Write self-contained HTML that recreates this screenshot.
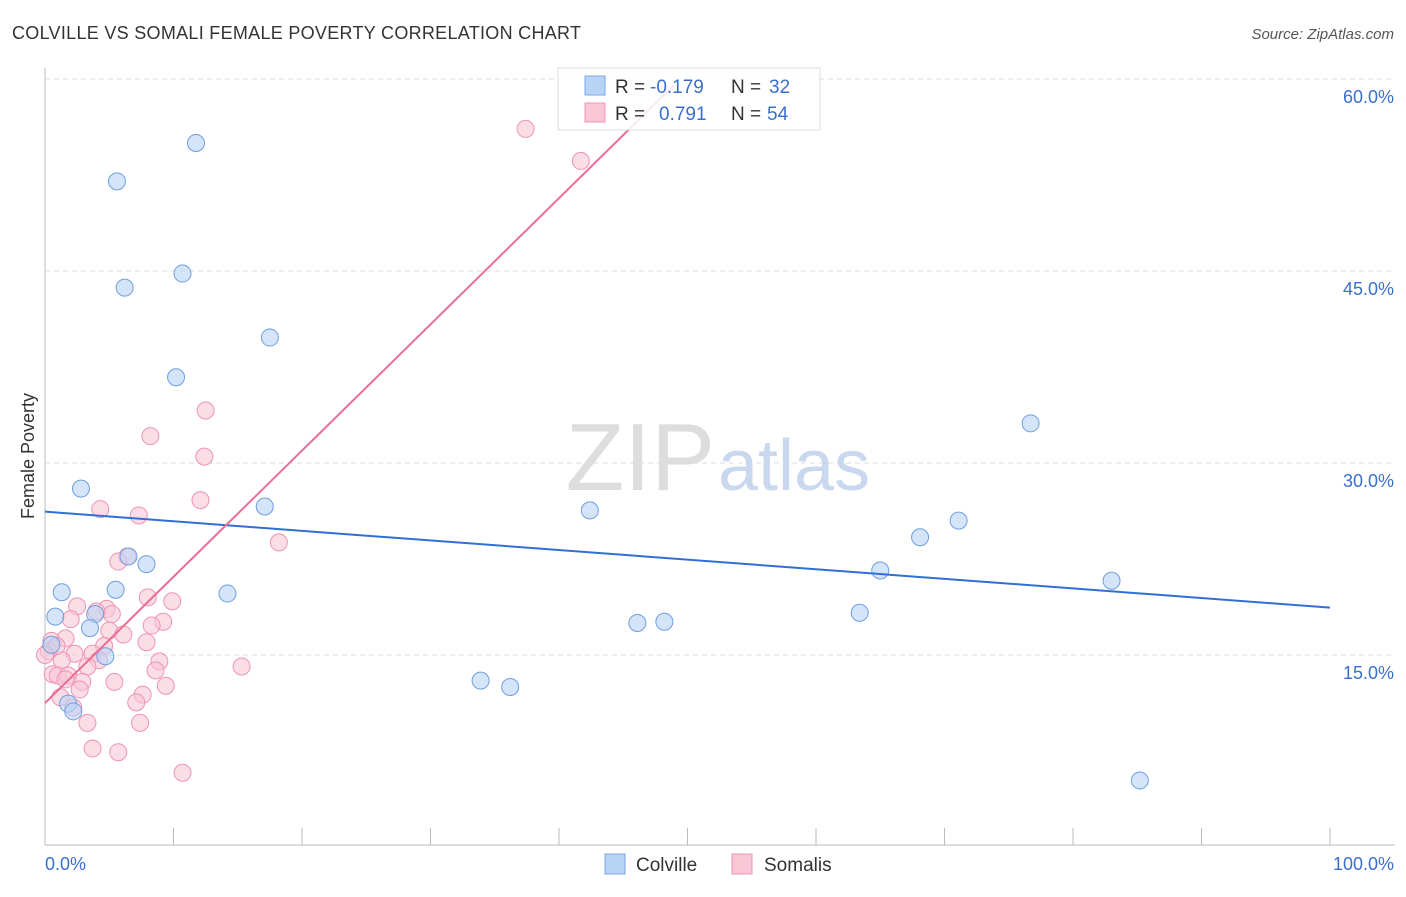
<!DOCTYPE html>
<html><head><meta charset="utf-8"><style>
body{margin:0;background:#fff;font-family:"Liberation Sans",sans-serif;}
svg text{font-family:"Liberation Sans",sans-serif;}
</style></head><body>
<svg width="1406" height="892">
<text x="12" y="39" font-size="18" fill="#333" textLength="569">COLVILLE VS SOMALI FEMALE POVERTY CORRELATION CHART</text>
<text x="1394" y="39" font-size="15" fill="#555" font-style="italic" text-anchor="end">Source: ZipAtlas.com</text>
<g id="grid"></g>
<text x="715" y="490" font-size="96" fill="#ddd" text-anchor="end" font-family="Liberation Serif">ZIP</text>
<text x="718" y="490" font-size="72" fill="#c9d8ee">atlas</text>
<line x1="45" y1="68" x2="45" y2="845" stroke="#bbb"/>
<line x1="45" y1="845" x2="1395" y2="845" stroke="#bbb"/>
<g id="xt"></g>
<text x="45" y="870" font-size="18" fill="#3a6fd0">0.0%</text>
<text x="1394" y="870" font-size="18" fill="#3a6fd0" text-anchor="end">100.0%</text>
<text x="34" y="456" font-size="18" fill="#333" text-anchor="middle" transform="rotate(-90 34 456)">Female Poverty</text>
<g id="pts"></g>
<g id="lines"></g>
<g>
<rect x="558" y="68" width="262" height="62" fill="#fff" fill-opacity="0.85" stroke="#ddd"/>
<rect x="585" y="76" width="20" height="19" fill="#b9d3f5" stroke="#7aa6e6"/>
<rect x="585" y="103" width="20" height="19" fill="#f9c6d6" stroke="#ee94b2"/>
<text x="615" y="93" font-size="19" fill="#333">R = </text><text x="650" y="93" font-size="19" fill="#3a6fd0">-0.179</text>
<text x="731" y="93" font-size="19" fill="#333">N = </text><text x="769" y="93" font-size="19" fill="#3a6fd0">32</text>
<text x="615" y="120" font-size="19" fill="#333">R = </text><text x="659" y="120" font-size="19" fill="#3a6fd0">0.791</text>
<text x="731" y="120" font-size="19" fill="#333">N = </text><text x="767" y="120" font-size="19" fill="#3a6fd0">54</text>
</g>
<g>
<rect x="605" y="854" width="20" height="20" fill="#b9d3f5" stroke="#7aa6e6"/>
<text x="636" y="871" font-size="19" fill="#333">Colville</text>
<rect x="732" y="854" width="20" height="20" fill="#f9c6d6" stroke="#ee94b2"/>
<text x="764" y="871" font-size="19" fill="#333">Somalis</text>
</g>
</svg>
<script>
const yTicks=[15,30,45,60];
const xTickVals=[0,10,20,30,40,50,60,70,80,90,100];
const colvilleX=[11.75,5.6,10.7,6.2,17.5,10.2,2.8,17.1,42.4,6.5,7.9,1.3,5.5,14.2,0.8,3.9,3.5,0.5,4.7,1.8,2.2,33.9,36.2,46.1,48.2,63.4,65.0,68.1,71.1,76.7,83.0,85.2];
const colvilleY=[55.0,52.0,44.8,43.7,39.8,36.7,28.0,26.6,26.3,22.7,22.1,19.9,20.1,19.8,18.0,18.2,17.1,15.8,14.9,11.2,10.6,13.0,12.5,17.5,17.6,18.3,21.6,24.2,25.5,33.1,20.8,5.2];
const somaliX=[37.4,41.7,12.5,8.2,12.4,12.1,4.3,7.3,18.2,6.4,5.7,8.0,9.9,2.5,4.8,5.2,2.0,9.2,8.3,5.0,6.1,1.6,0.5,7.9,4.6,0.3,2.3,3.7,4.2,1.3,8.9,15.3,3.3,8.6,0.6,1.0,1.8,2.9,5.4,9.4,2.7,7.6,1.2,7.1,2.2,3.3,7.4,3.7,5.7,10.7,0.9,4.0,0,1.6];
const somaliY=[56.1,53.6,34.1,32.1,30.5,27.1,26.4,25.9,23.8,22.7,22.3,19.5,19.2,18.8,18.6,18.2,17.8,17.6,17.3,16.9,16.6,16.3,16.1,16.0,15.7,15.3,15.1,15.1,14.6,14.6,14.5,14.1,14.1,13.8,13.5,13.4,13.4,12.9,12.9,12.6,12.3,11.9,11.7,11.3,10.9,9.7,9.7,7.7,7.4,5.8,15.7,18.4,15.0,13.1];
const colvilleTrend=[26.2,18.7];
const somaliTrend=[11.25,0.986];
const sx=v=>45+v*12.85, sy=v=>847-v*12.8;
const NS="http://www.w3.org/2000/svg";
function mk(t,a,p){const e=document.createElementNS(NS,t);for(const k in a)e.setAttribute(k,a[k]);p.appendChild(e);return e;}
const grid=document.getElementById('grid');
yTicks.forEach(v=>{
 const l=mk('line',{x1:45,x2:1395,y1:sy(v),y2:sy(v),stroke:'#ddd','stroke-dasharray':'5,4'},grid);
 
 
 const t=mk('text',{x:1394,y:sy(v)+24,'font-size':18,fill:'#3a6fd0','text-anchor':'end'},grid);
 t.textContent=v.toFixed(1)+'%';
 
 
});
const xt=document.getElementById('xt');
xTickVals.forEach(v=>{
 const l=mk('line',{x1:sx(v),x2:sx(v),y1:828,y2:845,stroke:'#bbb'},xt);
 
 
});
const pts=document.getElementById('pts');
somaliX.forEach((x,i)=>{
 const c=mk('circle',{cx:sx(x),cy:sy(somaliY[i]),r:8.5,fill:'#f9c6d6','fill-opacity':0.6,stroke:'#ee94b2','stroke-width':1},pts);
 
 
});
colvilleX.forEach((x,i)=>{
 const c=mk('circle',{cx:sx(x),cy:sy(colvilleY[i]),r:8.5,fill:'#b9d3f5','fill-opacity':0.6,stroke:'#6f9ee0','stroke-width':1},pts);
 
 
});
const lines=document.getElementById('lines');
const bl=mk('line',{x1:sx(0),y1:sy(colvilleTrend[0]),x2:sx(100),y2:sy(colvilleTrend[1]),stroke:'#2f6fd6','stroke-width':2},lines);


const xEnd=(59.5-somaliTrend[0])/somaliTrend[1];
const pl=mk('line',{x1:sx(0),y1:sy(somaliTrend[0]),x2:sx(xEnd),y2:sy(59.5),stroke:'#ec6d94','stroke-width':2},lines);


</script>
</body></html>
